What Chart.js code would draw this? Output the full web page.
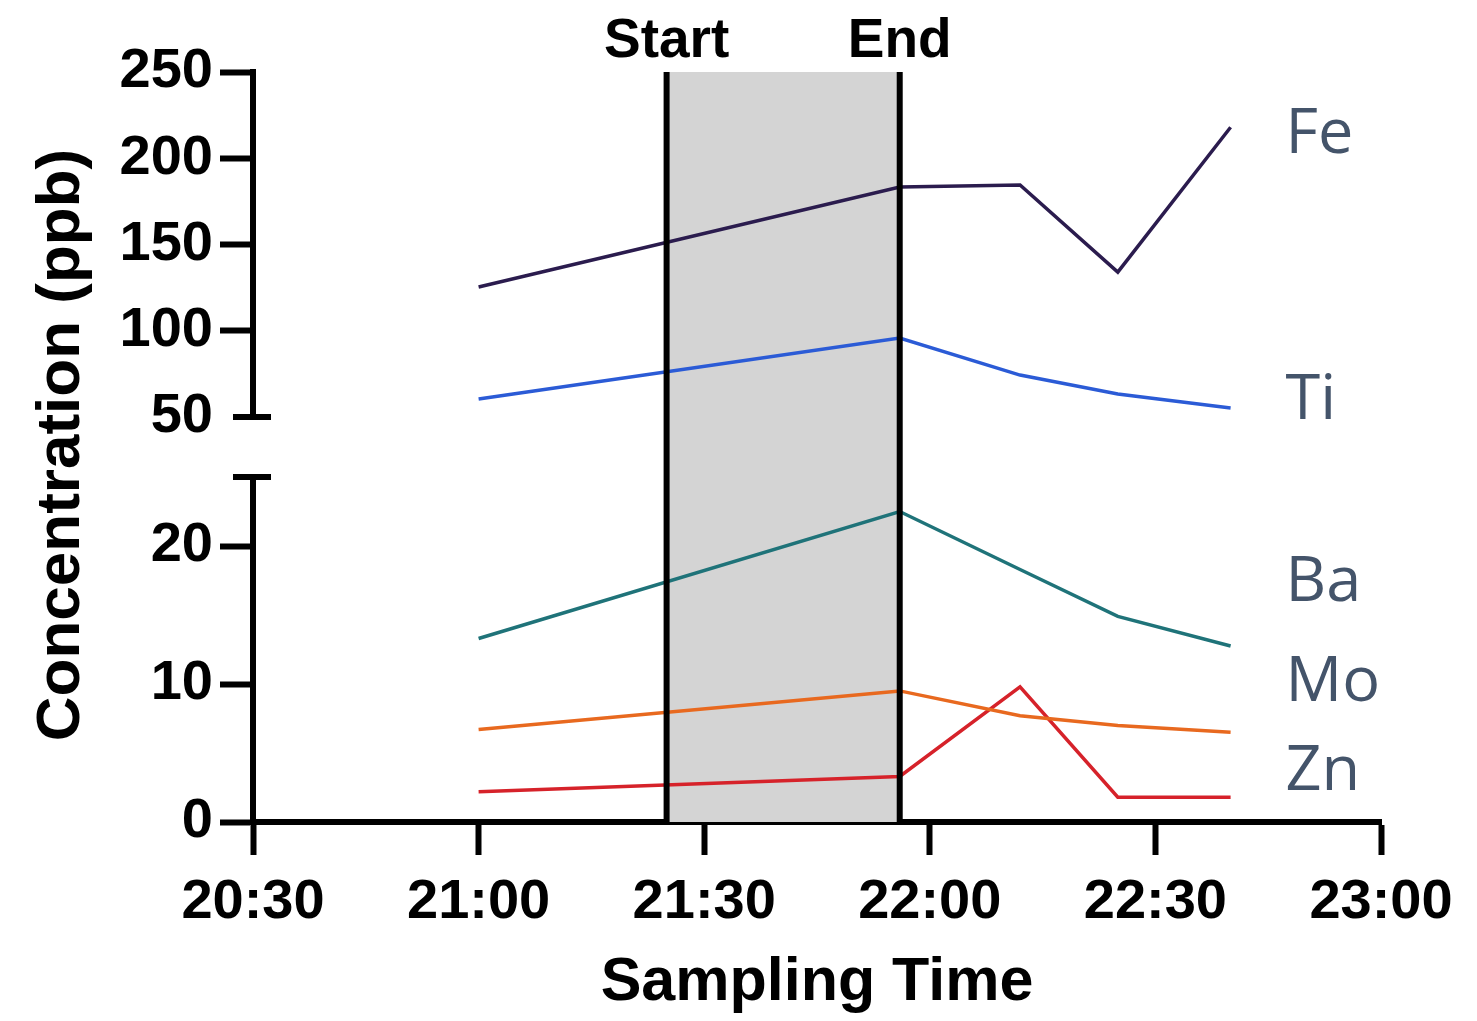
<!DOCTYPE html>
<html>
<head>
<meta charset="utf-8">
<script src="https://cdn.jsdelivr.net/npm/chart.js@4.4.1/dist/chart.umd.min.js"></script>
<style>
  html, body { margin: 0; padding: 0; background: #ffffff; }
  canvas { display: block; }
</style>
</head>
<body>
<canvas id="c" width="1477" height="1021"></canvas>
<script>
// ---------- data ----------
const timeTickLabels = ['20:30', '21:00', '21:30', '22:00', '22:30', '23:00'];
const sampleTimes = ['21:00', '21:56', '22:12', '22:25', '22:40'];
const elementNames = ['Fe', 'Ti', 'Ba', 'Mo', 'Zn'];
const feValues = [125.4, 183.3, 184.5, 134.0, 218.0];
const tiValues = [60.4, 95.8, 74.3, 63.3, 55.2];
const baValues = [13.3, 22.5, 18.3, 14.9, 12.75];
const moValues = [6.7, 9.5, 7.7, 7.0, 6.5];
const znValues = [2.2, 3.3, 9.8, 1.8, 1.8];
const samplingWindow = ['21:25', '21:56'];
const windowLabels = ['Start', 'End'];
const upperRange = [50, 250];
const lowerRange = [0, 25];
const upperTickValues = [50, 100, 150, 200, 250];
const lowerTickValues = [0, 10, 20];

// ---------- helpers ----------
const ORIGIN = 20 * 60 + 30;
function toMin(t) { const [h, m] = t.split(':').map(Number); return h * 60 + m - ORIGIN; }
function minToLabel(v) {
  const idx = Math.round(v / 30);
  return timeTickLabels[idx] !== undefined ? timeTickLabels[idx] : '';
}
const xs = sampleTimes.map(toMin);
const pts = arr => arr.map((v, i) => ({ x: xs[i], y: v }));

const FONT = "'Liberation Sans', Arial, Helvetica, sans-serif";
const AXIS_W = 6;
const TICK_LEN = 33;
const LEFT_W = 253;

const seriesDefs = [
  { name: elementNames[0], data: feValues, color: '#2b1c4e', axis: 'yUp' },
  { name: elementNames[1], data: tiValues, color: '#2b5bd6', axis: 'yUp' },
  { name: elementNames[2], data: baValues, color: '#1f7379', axis: 'yLow' },
  { name: elementNames[3], data: moValues, color: '#e8691f', axis: 'yLow' },
  { name: elementNames[4], data: znValues, color: '#d6222a', axis: 'yLow' }
];

// label anchors in axis units
const labelAnchors = [
  { axis: 'yUp', y: 203 },
  { axis: 'yUp', y: 48.8 },
  { axis: 'yLow', y: 16.0 },
  { axis: 'yLow', y: 8.8 },
  { axis: 'yLow', y: 2.3 }
];
const LABEL_X_MIN = 137.3;

const decorPlugin = {
  id: 'decor',
  beforeDatasetsDraw(chart) {
    const ctx = chart.ctx;
    const x = chart.scales.x, yUp = chart.scales.yUp;
    const x0 = x.getPixelForValue(toMin(samplingWindow[0]));
    const x1 = x.getPixelForValue(toMin(samplingWindow[1]));
    const top = yUp.getPixelForValue(upperRange[1]);
    const bottom = chart.chartArea.bottom;
    ctx.save();
    ctx.fillStyle = '#d4d4d4';
    ctx.fillRect(x0, top, x1 - x0, bottom - top);
    ctx.restore();
  },
  afterDatasetsDraw(chart) {
    const ctx = chart.ctx;
    const x = chart.scales.x, yUp = chart.scales.yUp, yLow = chart.scales.yLow;
    const top = yUp.getPixelForValue(upperRange[1]);
    const bottom = chart.chartArea.bottom;
    ctx.save();
    ctx.strokeStyle = '#000';
    ctx.lineWidth = 6;
    ctx.fillStyle = '#000';
    ctx.font = 'bold 55px ' + FONT;
    ctx.textAlign = 'center';
    ctx.textBaseline = 'alphabetic';
    samplingWindow.forEach((t, i) => {
      const px = x.getPixelForValue(toMin(t));
      ctx.beginPath();
      ctx.moveTo(px, top);
      ctx.lineTo(px, bottom);
      ctx.stroke();
      ctx.fillText(windowLabels[i], px, top - 15);
    });
    // axis break marks
    const axX = chart.chartArea.left;
    ctx.lineWidth = AXIS_W;
    const yb1 = yUp.getPixelForValue(upperRange[0]);
    const yb2 = yLow.getPixelForValue(lowerRange[1]);
    [yb1, yb2].forEach(py => {
      ctx.beginPath();
      ctx.moveTo(axX - 20, py);
      ctx.lineTo(axX + 18, py);
      ctx.stroke();
    });
    // y title
    ctx.save();
    ctx.translate(62, (top + bottom) / 2 - 2);
    ctx.rotate(-Math.PI / 2);
    ctx.font = 'bold 62px ' + FONT;
    ctx.textAlign = 'center';
    ctx.textBaseline = 'middle';
    ctx.fillText('Concentration (ppb)', 0, 0);
    ctx.restore();
    // element labels
    ctx.fillStyle = '#44546a';
    ctx.font = "63px 'Open Sans', 'Liberation Sans', sans-serif";
    ctx.textAlign = 'left';
    ctx.textBaseline = 'alphabetic';
    const lx = x.getPixelForValue(LABEL_X_MIN);
    elementNames.forEach((n, i) => {
      const a = labelAnchors[i];
      ctx.fillText(n, lx, chart.scales[a.axis].getPixelForValue(a.y));
    });
    ctx.restore();
  }
};

const yTickFont = { family: FONT, size: 56, weight: 'bold' };

new Chart(document.getElementById('c'), {
  type: 'line',
  data: {
    datasets: seriesDefs.map(s => ({
      label: s.name,
      data: pts(s.data),
      yAxisID: s.axis,
      borderColor: s.color,
      backgroundColor: s.color,
      borderWidth: 3.5,
      pointRadius: 0,
      tension: 0,
      fill: false
    }))
  },
  options: {
    responsive: false,
    animation: false,
    devicePixelRatio: 1,
    layout: { padding: { top: 72, right: 96, bottom: 0, left: 0 } },
    plugins: { legend: { display: false }, tooltip: { enabled: false } },
    scales: {
      x: {
        type: 'linear',
        min: 0,
        max: 150,
        afterFit(s) { s.height = 199; },
        afterBuildTicks(s) { s.ticks = timeTickLabels.map((_, i) => ({ value: i * 30 })); },
        border: { display: true, color: '#000', width: AXIS_W },
        grid: { display: true, drawOnChartArea: false, drawTicks: true, tickLength: TICK_LEN, tickWidth: AXIS_W, tickColor: '#000', color: '#000' },
        ticks: {
          color: '#000',
          maxRotation: 0,
          autoSkip: false,
          padding: 14,
          font: { family: FONT, size: 56, weight: 'bold' },
          callback: v => minToLabel(v)
        },
        title: {
          display: true,
          text: 'Sampling Time',
          color: '#000',
          font: { family: FONT, size: 61, weight: 'bold' },
          padding: { top: 0, bottom: 1 }
        }
      },
      yLow: {
        type: 'linear',
        position: 'left',
        stack: 'conc',
        stackWeight: 345,
        min: lowerRange[0],
        max: lowerRange[1],
        afterFit(s) { s.width = LEFT_W; },
        afterBuildTicks(s) { s.ticks = lowerTickValues.map(v => ({ value: v })); },
        border: { display: true, color: '#000', width: AXIS_W },
        grid: { display: true, drawOnChartArea: false, drawTicks: true, tickLength: TICK_LEN, tickWidth: AXIS_W, tickColor: '#000' },
        ticks: { color: '#000', font: yTickFont, padding: 7, autoSkip: false }
      },
      yGap: {
        type: 'linear',
        position: 'left',
        stack: 'conc',
        stackWeight: 60,
        min: 0, max: 1,
        afterFit(s) { s.width = LEFT_W; },
        border: { display: false },
        grid: { display: false },
        ticks: { display: false }
      },
      yUp: {
        type: 'linear',
        position: 'left',
        stack: 'conc',
        stackWeight: 345,
        min: upperRange[0],
        max: upperRange[1],
        afterFit(s) { s.width = LEFT_W; },
        afterBuildTicks(s) { s.ticks = upperTickValues.map(v => ({ value: v })); },
        border: { display: true, color: '#000', width: AXIS_W },
        grid: {
          display: true, drawOnChartArea: false, drawTicks: true, tickLength: TICK_LEN, tickWidth: AXIS_W,
          tickColor: c => (c.tick && c.tick.value === upperRange[0]) ? 'rgba(0,0,0,0)' : '#000'
        },
        ticks: { color: '#000', font: yTickFont, padding: 7, autoSkip: false }
      }
    }
  },
  plugins: [decorPlugin]
});
</script>
</body>
</html>
